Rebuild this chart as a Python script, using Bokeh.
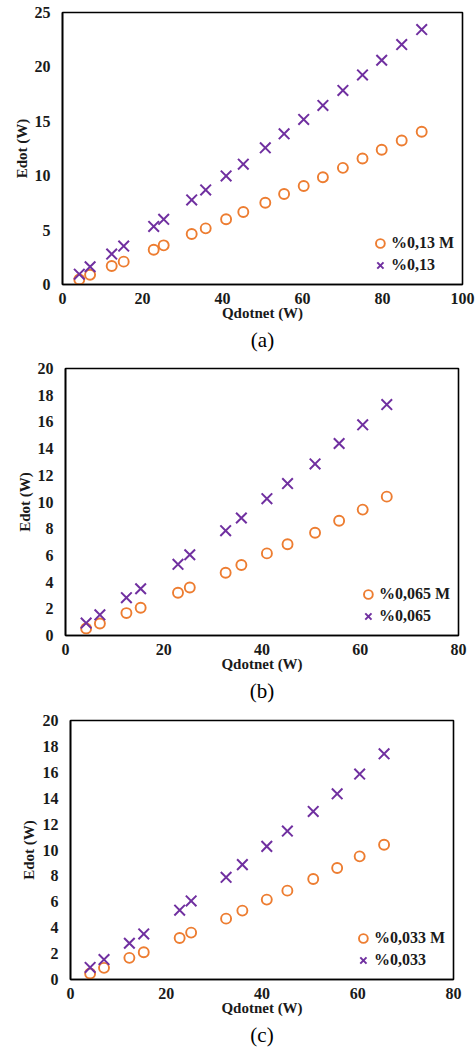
from bokeh.plotting import figure
from bokeh.models import Range1d, FixedTicker, Legend, LegendItem, Title
from bokeh.embed import file_html
from bokeh.resources import INLINE

# Panel (a): 0.13 %
q_a = [4.2, 6.9, 12.3, 15.3, 22.8, 25.3, 32.3, 35.8, 40.9, 45.2, 50.7, 55.4, 60.3, 65.1, 70.1, 75.0, 79.8, 84.8, 89.8]
e_a_m = [0.46, 0.90, 1.70, 2.10, 3.20, 3.60, 4.64, 5.16, 6.00, 6.66, 7.52, 8.32, 9.06, 9.86, 10.72, 11.58, 12.38, 13.24, 14.04]
e_a = [0.95, 1.63, 2.80, 3.53, 5.34, 5.99, 7.77, 8.69, 9.98, 11.06, 12.56, 13.85, 15.17, 16.46, 17.84, 19.26, 20.61, 22.05, 23.43]

# Panel (b): 0.065 %
q_b = [4.2, 7.0, 12.4, 15.3, 22.9, 25.3, 32.6, 35.8, 41.0, 45.2, 50.8, 55.7, 60.5, 65.4]
e_b_m = [0.53, 0.90, 1.68, 2.08, 3.20, 3.60, 4.70, 5.28, 6.15, 6.83, 7.70, 8.60, 9.43, 10.40]
e_b = [0.93, 1.55, 2.83, 3.50, 5.33, 6.05, 7.85, 8.80, 10.25, 11.38, 12.85, 14.38, 15.78, 17.30]

# Panel (c): 0.033 %
q_c = [4.1, 7.0, 12.3, 15.3, 22.8, 25.2, 32.5, 35.9, 41.0, 45.3, 50.7, 55.7, 60.4, 65.5]
e_c_m = [0.46, 0.90, 1.67, 2.10, 3.21, 3.62, 4.70, 5.32, 6.17, 6.86, 7.76, 8.61, 9.51, 10.41]
e_c = [0.93, 1.54, 2.80, 3.52, 5.35, 6.07, 7.89, 8.87, 10.28, 11.46, 12.98, 14.34, 15.86, 17.43]

labels_a = ["%0,13 M", "%0,13"]
labels_b = ["%0,065 M", "%0,065"]
labels_c = ["%0,033 M", "%0,033"]

x_ticks_a = [0, 20, 40, 60, 80, 100]
y_ticks_a = [0, 5, 10, 15, 20, 25]
x_ticks_bc = [0, 20, 40, 60, 80]
y_ticks_bc = [0, 2, 4, 6, 8, 10, 12, 14, 16, 18, 20]

ORANGE = "#ED7D31"
PURPLE = "#7030A0"
SERIF = "Liberation Serif"
INK = "#1a1a1a"


def panel(q, e_m, e, labels, xt, yt, caption, height, left, right, top, bottom, ystand):
    p = figure(width=476, height=height, output_backend="svg", toolbar_location=None,
               x_range=Range1d(xt[0], xt[-1]), y_range=Range1d(yt[0], yt[-1]),
               min_border_left=left, min_border_right=right,
               min_border_top=top, min_border_bottom=bottom)
    p.grid.visible = False
    p.outline_line_color = "black"
    p.outline_line_width = 1.6
    p.background_fill_color = "white"
    p.border_fill_color = "white"

    for ax, ticks in ((p.xaxis[0], xt), (p.yaxis[0], yt)):
        ax.ticker = FixedTicker(ticks=ticks)
        ax.major_tick_out = 0
        ax.major_tick_in = 0
        ax.minor_tick_out = 0
        ax.minor_tick_in = 0
        ax.axis_line_color = "black"
        ax.axis_line_width = 1.6
        ax.major_label_text_font = SERIF
        ax.major_label_text_font_style = "bold"
        ax.major_label_text_font_size = "16px"
        ax.major_label_text_color = INK

    p.xaxis.axis_label = "Qdotnet (W)"
    p.xaxis.axis_label_text_font = SERIF
    p.xaxis.axis_label_text_font_style = "bold"
    p.xaxis.axis_label_text_font_size = "15px"
    p.xaxis.axis_label_text_color = INK
    p.xaxis.major_label_standoff = 8
    p.xaxis.axis_label_standoff = -2
    p.yaxis.major_label_standoff = 12

    # vertical axis title set as a left-hand title so its gap stays tight
    ytitle = Title(text="Edot (W)", align="center", text_font=SERIF, text_font_style="bold",
                   text_font_size="15px", text_color=INK, standoff=ystand)
    p.add_layout(ytitle, "left")

    r_m = p.scatter(q, e_m, marker="circle", size=10, fill_color=None,
                    line_color=ORANGE, line_width=1.9)
    r_x = p.scatter(q, e, marker="x", size=15, line_color=PURPLE, line_width=2)

    leg = Legend(items=[LegendItem(label=labels[0], renderers=[r_m]),
                        LegendItem(label=labels[1], renderers=[r_x])],
                 location="bottom_right")
    leg.border_line_color = None
    leg.background_fill_alpha = 0
    leg.margin = 8
    leg.padding = 2
    leg.spacing = 0
    leg.glyph_width = 22
    leg.glyph_height = 22
    leg.label_height = 22
    leg.label_standoff = 0
    leg.label_text_font = SERIF
    leg.label_text_font_style = "bold"
    leg.label_text_font_size = "16px"
    leg.label_text_color = INK
    p.add_layout(leg)

    cap = Title(text=caption, align="center", text_font=SERIF, text_font_style="normal",
                text_font_size="21px", text_color="black", standoff=4)
    p.add_layout(cap, "below")
    return p


pa = panel(q_a, e_a_m, e_a, labels_a, x_ticks_a, y_ticks_a, "(a)", 356, 62, 14, 12, 72, 3)
pb = panel(q_b, e_b_m, e_b, labels_b, x_ticks_bc, y_ticks_bc, "(b)", 352, 65, 18, 12, 73, 4)
pc = panel(q_c, e_c_m, e_c, labels_c, x_ticks_bc, y_ticks_bc, "(c)", 342, 70, 23, 12, 71, 6)

# three independent roots stacked on the page, each keeping its own borders
open("out.html", "w").write(file_html([pa, pb, pc], INLINE))
